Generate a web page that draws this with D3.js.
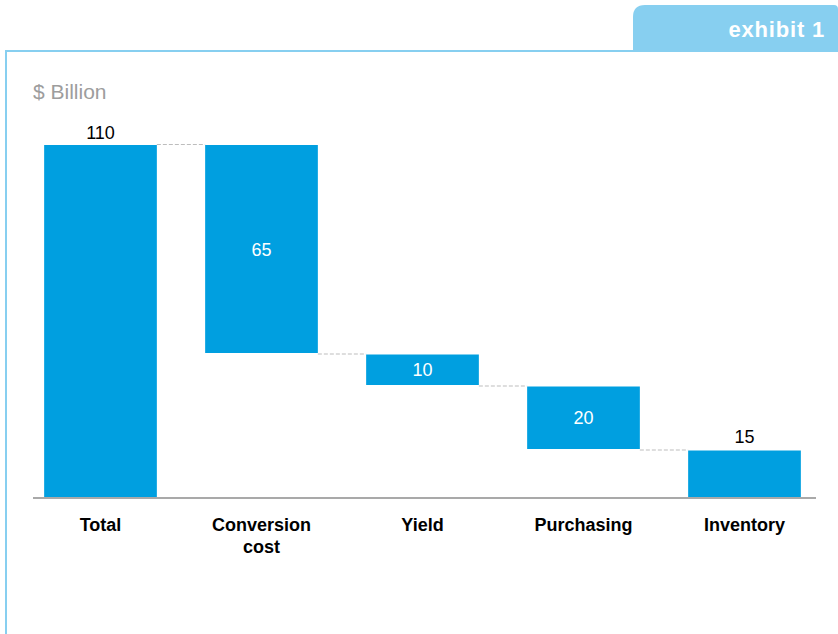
<!DOCTYPE html>
<html>
<head>
<meta charset="utf-8">
<script src="https://cdn.jsdelivr.net/npm/d3@7"></script>
<style>
  html, body { margin: 0; padding: 0; background: #fff; }
  svg { display: block; font-family: "Liberation Sans", Arial, Helvetica, sans-serif; }
</style>
</head>
<body>
<svg id="chart" width="838" height="634"></svg>
<script>
// Waterfall data ($ Billion)
const categories = ["Total", "Conversion\ncost", "Yield", "Purchasing", "Inventory"];
const values = [110, 65, 10, 20, 15];
const kinds = ["total", "drop", "drop", "drop", "end"];
const labelPlacement = ["above", "inside", "inside", "inside", "above"];

const W = 838, H = 634;
const svg = d3.select("#chart");

const barColor = "#009fe0";
const frameColor = "#87cff0";

// Frame and tab
svg.append("path")
  .attr("d", `M${W + 5},51 L6,51 L6,${H + 5}`)
  .attr("fill", "none")
  .attr("stroke", frameColor)
  .attr("stroke-width", 2);

const tabX = 633, tabY = 5, tabR = 12;
svg.append("path")
  .attr("d", `M${tabX},52 L${tabX},${tabY + tabR} Q${tabX},${tabY} ${tabX + tabR},${tabY} L${W - 4},${tabY} Q${W},${tabY} ${W},${tabY + 4} L${W},52 Z`)
  .attr("fill", frameColor);

svg.append("text")
  .attr("x", 825).attr("y", 37)
  .attr("text-anchor", "end")
  .attr("fill", "#fff")
  .attr("font-weight", "bold")
  .attr("font-size", 22)
  .attr("letter-spacing", 0.8)
  .text("exhibit 1");

svg.append("text")
  .attr("x", 33).attr("y", 99)
  .attr("fill", "#9d9d9d")
  .attr("font-size", 21)
  .text("$ Billion");

// Scales
const x = d3.scaleBand()
  .domain(categories)
  .range([20, 825])
  .paddingInner(0.3)
  .paddingOuter(0.15);

const y = d3.scaleLinear()
  .domain([0, 110])
  .range([497, 145]);

// Compute waterfall segments
let running = 0;
const segs = categories.map((c, i) => {
  let top, bottom;
  if (kinds[i] === "total") {
    bottom = 0; top = values[i]; running = values[i];
  } else if (kinds[i] === "drop") {
    top = running; bottom = running - values[i]; running = bottom;
  } else {
    bottom = 0; top = values[i];
  }
  return { cat: c, value: values[i], top, bottom, i };
});

const gap = 1.5;

// Connector lines at each step's running level
const conn = svg.append("g");
segs.slice(0, -1).forEach((s, i) => {
  const next = segs[i + 1];
  const level = kinds[i] === "total" ? s.top : s.bottom;
  const yy = y(level) + (i === 0 ? -0.5 : gap - 0.5);
  conn.append("line")
    .attr("x1", x(s.cat) + x.bandwidth())
    .attr("x2", x(next.cat))
    .attr("y1", yy)
    .attr("y2", yy)
    .attr("stroke", "#bdbdbd")
    .attr("stroke-width", 1)
    .attr("stroke-dasharray", "4,2");
});

// Bars
svg.append("g").selectAll("rect")
  .data(segs)
  .join("rect")
  .attr("x", d => x(d.cat))
  .attr("width", x.bandwidth())
  .attr("y", d => y(d.top) + (d.i >= 2 ? gap : 0))
  .attr("height", d => y(d.bottom) - y(d.top) - (d.i >= 2 ? gap : 0))
  .attr("fill", barColor);

// Value labels
svg.append("g").selectAll("text")
  .data(segs)
  .join("text")
  .attr("x", d => x(d.cat) + x.bandwidth() / 2)
  .attr("y", d => labelPlacement[d.i] === "above"
    ? y(d.top) - 6
    : (y(d.top) + y(d.bottom)) / 2 + 1)
  .attr("dy", d => labelPlacement[d.i] === "above" ? 0 : "0.35em")
  .attr("text-anchor", "middle")
  .attr("font-size", 18)
  .attr("fill", d => labelPlacement[d.i] === "above" ? "#000" : "#fff")
  .text(d => d.value);

// Baseline
svg.append("line")
  .attr("x1", 33).attr("x2", 816)
  .attr("y1", 498).attr("y2", 498)
  .attr("stroke", "#a9a9a9")
  .attr("stroke-width", 2);

// Category labels
const catG = svg.append("g");
categories.forEach(c => {
  const t = catG.append("text")
    .attr("x", x(c) + x.bandwidth() / 2)
    .attr("y", 531)
    .attr("text-anchor", "middle")
    .attr("font-size", 18)
    .attr("font-weight", "bold")
    .attr("fill", "#000");
  c.split("\n").forEach((line, k) => {
    t.append("tspan")
      .attr("x", x(c) + x.bandwidth() / 2)
      .attr("dy", k === 0 ? 0 : 22)
      .text(line);
  });
});
</script>
</body>
</html>
